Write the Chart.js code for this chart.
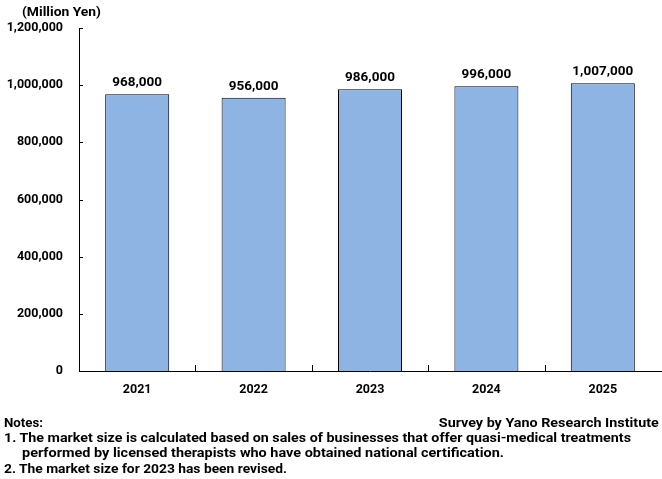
<!DOCTYPE html>
<html>
<head>
<meta charset="utf-8">
<script src="https://cdn.jsdelivr.net/npm/chart.js@4/dist/chart.umd.min.js"></script>
<style>
  html, body { margin: 0; padding: 0; background: #fff; }
  #wrap { position: relative; width: 662px; height: 479px; font-family: Roboto, "DejaVu Sans", sans-serif; font-weight: bold; color: #000; }
  canvas { position: absolute; left: 0; top: 0; }
  .txt { position: absolute; font-size: 12.5px; white-space: nowrap; line-height: 14px; transform-origin: left top; }
  .txt.r { transform-origin: right top; }
</style>
</head>
<body>
<div id="wrap">
  <canvas id="myChart" width="662" height="479"></canvas>
  <div class="txt" data-w="79" style="left:22px; top:5px;">(Million Yen)</div>
  <div class="txt" data-w="39" style="left:4px; top:415.5px;">Notes:</div>
  <div class="txt r" data-w="220" style="right:3px; top:415.5px;">Survey by Yano Research Institute</div>
  <div class="txt" data-w="627" style="left:4px; top:430.5px;">1. The market size is calculated based on sales of businesses that offer quasi-medical treatments</div>
  <div class="txt" data-w="482" style="left:22px; top:445.5px;">performed by licensed therapists who have obtained national certification.</div>
  <div class="txt" data-w="283" style="left:4px; top:461.5px;">2. The market size for 2023 has been revised.</div>
</div>
<script>
/* Market size chart */

const years = ['2021', '2022', '2023', '2024', '2025'];
const marketSize = [968000, 956000, 986000, 996000, 1007000];

const FONT = 'Roboto, "DejaVu Sans", sans-serif';

function fmt(v) {
  return v.toLocaleString('en-US');
}

// value labels on top of the bars + small inside ticks
const barLabels = {
  id: 'barLabels',
  afterDatasetsDraw(chart) {
    const ctx = chart.ctx;
    const meta = chart.getDatasetMeta(0);
    ctx.save();
    ctx.fillStyle = '#000';
    ctx.font = 'bold 13.5px ' + FONT;
    ctx.textAlign = 'center';
    ctx.textBaseline = 'alphabetic';
    meta.data.forEach((bar, i) => {
      ctx.fillText(fmt(marketSize[i]), bar.x, bar.y - 8);
    });

    // axis ticks drawn inward, like the original
    const x = chart.scales.x;
    const y = chart.scales.y;
    ctx.strokeStyle = '#000';
    ctx.lineWidth = 1;
    ctx.beginPath();
    y.ticks.forEach(t => {
      const py = Math.round(y.getPixelForValue(t.value)) + 0.5;
      ctx.moveTo(x.left, py);
      ctx.lineTo(x.left + 4, py);
    });
    for (let i = 1; i < years.length; i++) {
      const px = Math.round((x.getPixelForValue(i - 1) + x.getPixelForValue(i)) / 2) + 0.5;
      ctx.moveTo(px, y.bottom);
      ctx.lineTo(px, y.bottom - 6);
    }
    ctx.stroke();
    ctx.restore();
  }
};

// squeeze the note lines to the widths of the original
function fitTexts() {
  document.querySelectorAll('.txt').forEach(el => {
    const w = parseFloat(el.dataset.w);
    const real = el.getBoundingClientRect().width;
    if (real > 0) el.style.transform = 'scaleX(' + (w / real) + ')';
  });
}

function init() {
  fitTexts();
  const ctx = document.getElementById('myChart');
  new Chart(ctx, {
    type: 'bar',
    data: {
      labels: years,
      datasets: [{
        data: marketSize,
        backgroundColor: 'rgb(142,180,227)',
        borderColor: '#000',
        borderWidth: 1,
        borderSkipped: 'bottom',
        barPercentage: 0.55,
        categoryPercentage: 1.0
      }]
    },
    options: {
      responsive: false,
      animation: false,
      layout: { padding: { top: 28, right: 1, bottom: 78, left: 0 } },
      plugins: { legend: { display: false }, tooltip: { enabled: false } },
      scales: {
        x: {
          grid: { display: false },
          border: { color: '#000', width: 1 },
          ticks: { color: '#000', padding: 3, font: { family: FONT, weight: 'bold', size: 12.5 } },
          afterFit(scale) { scale.height = 30; }
        },
        y: {
          min: 0,
          max: 1200000,
          grid: { display: false },
          border: { color: '#000', width: 1 },
          ticks: {
            stepSize: 200000,
            color: '#000',
            padding: 8,
            font: { family: FONT, weight: 'bold', size: 12.5 },
            callback: v => fmt(v)
          },
          afterFit(scale) { scale.width = 79; }
        }
      }
    },
    plugins: [barLabels]
  });
}

document.addEventListener('DOMContentLoaded', init, false);
</script>
</body>
</html>
